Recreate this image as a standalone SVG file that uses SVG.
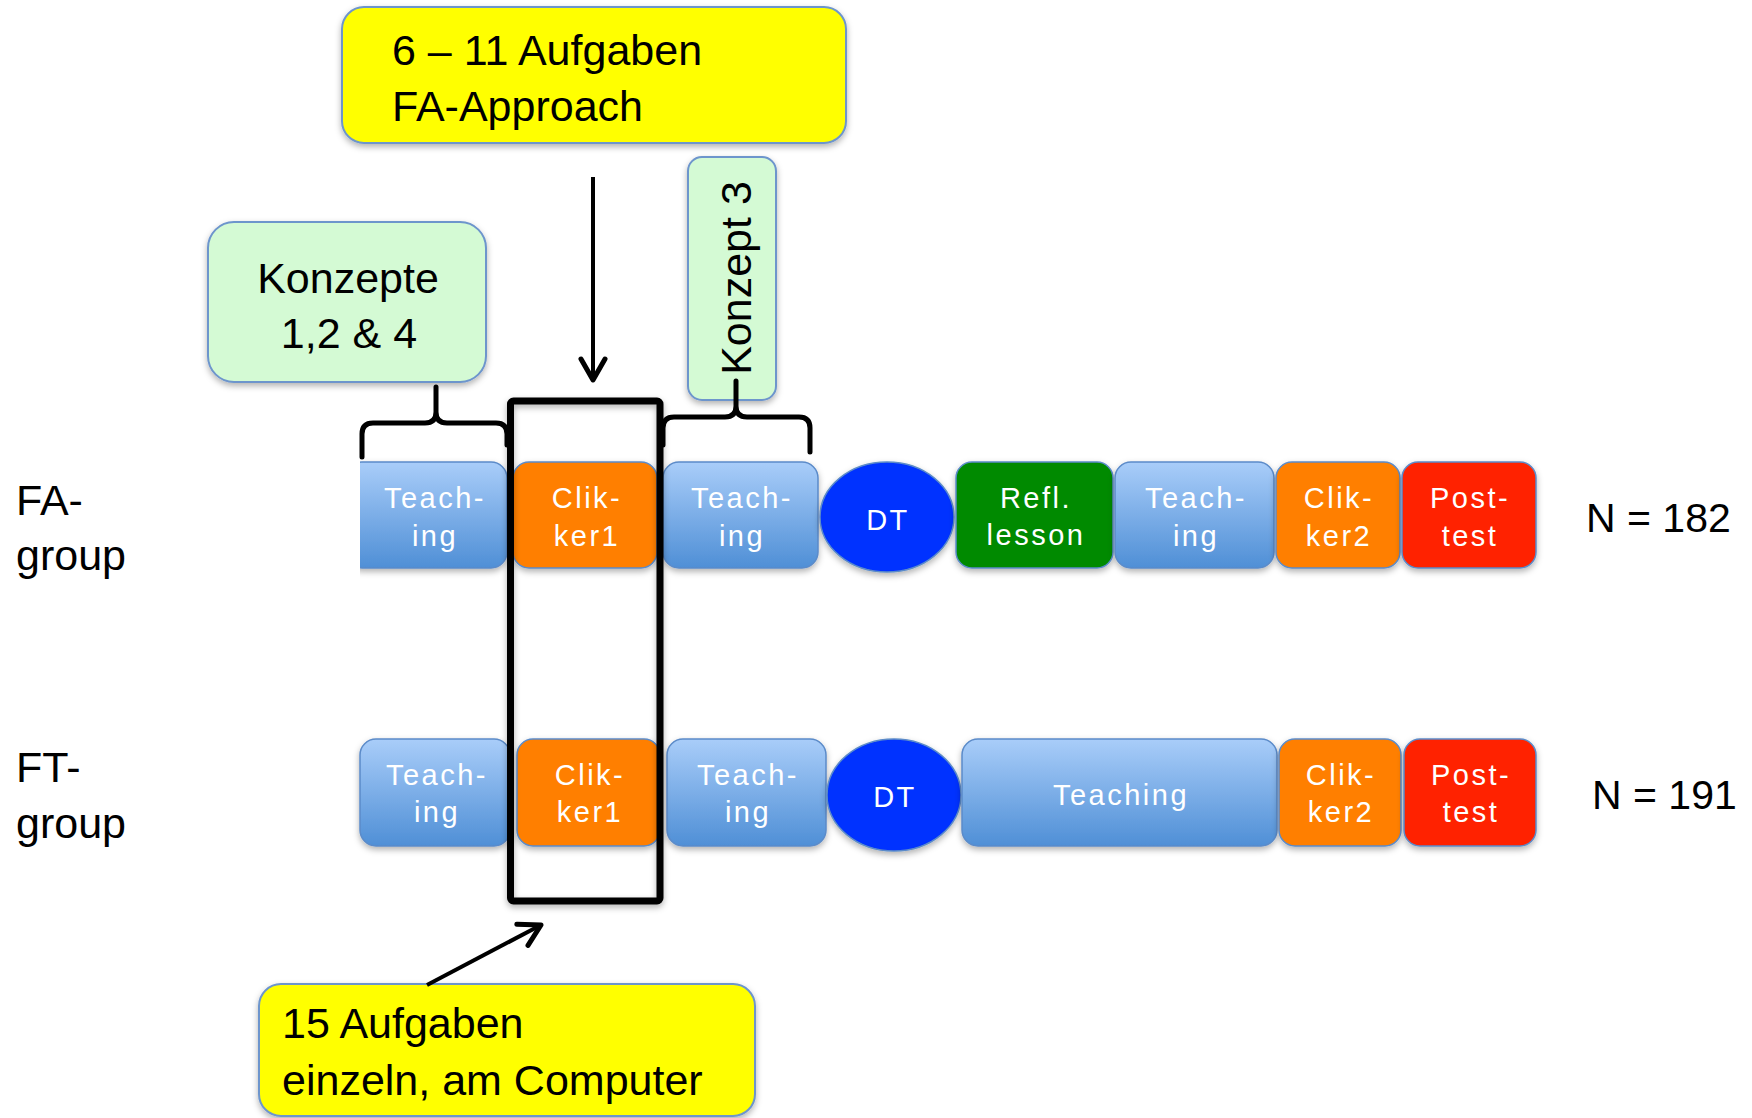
<svg xmlns="http://www.w3.org/2000/svg" width="1752" height="1118" viewBox="0 0 1752 1118">
<style>
.lbl{font-family:"Liberation Sans",Arial,sans-serif;fill:#000}
.big{font-size:43px}
.nt{font-family:"Liberation Sans",Arial,sans-serif;font-size:29px;fill:#fff;text-anchor:middle;letter-spacing:2.5px}
.box{stroke:#5b8bc9;stroke-width:1.5;filter:url(#sh)}
.teach{fill:url(#gTeach)}
.click{fill:#ff7f00}
.post{fill:#ff2200}
.refl{fill:#008a00}
.dt{fill:#0033ff}
.yel{fill:#ffff00;stroke:#6d95cc;stroke-width:2;filter:url(#sh)}
.grn{fill:#d4fad4;stroke:#6d95cc;stroke-width:2;filter:url(#sh)}
.brace{fill:none;stroke:#000;stroke-width:5;stroke-linecap:round;stroke-linejoin:round}
.arr{fill:none;stroke:#000;stroke-width:4;marker-end:url(#ah)}
</style>
<defs>
<linearGradient id="gTeach" x1="0" y1="0" x2="0" y2="1">
<stop offset="0" stop-color="#a9cdf9"/>
<stop offset="1" stop-color="#4f8fd6"/>
</linearGradient>
<filter id="sh" x="-10%" y="-10%" width="120%" height="130%">
<feDropShadow dx="0" dy="3" stdDeviation="3" flood-color="#000" flood-opacity="0.3"/>
</filter>
<clipPath id="clipL"><rect x="360" y="0" width="1400" height="1118"/></clipPath>
<marker id="ah" markerUnits="userSpaceOnUse" markerWidth="40" markerHeight="40" refX="0" refY="0" viewBox="-30 -20 40 40" orient="auto" overflow="visible">
<path d="M-21,-12 L0,0 L-21,12" fill="none" stroke="#000" stroke-width="5" stroke-linecap="round" stroke-linejoin="round"/>
</marker>
</defs>
<rect width="1752" height="1118" fill="#fff"/>

<g id="callout-top">
<rect class="yel" x="342" y="7" width="504" height="136" rx="22"/>
<text class="lbl big" x="392" y="65">6 – 11 Aufgaben</text>
<text class="lbl big" x="392" y="121">FA-Approach</text>
</g>

<g id="callout-konzepte">
<rect class="grn" x="208" y="222" width="278" height="160" rx="26"/>
<text class="lbl big" x="348" y="293" text-anchor="middle">Konzepte</text>
<text class="lbl big" x="349" y="348" text-anchor="middle">1,2 &amp; 4</text>
</g>

<g id="callout-konzept3">
<rect class="grn" x="688" y="157" width="88" height="243" rx="14"/>
<text class="lbl big" transform="translate(751,278) rotate(-90)" text-anchor="middle">Konzept 3</text>
</g>

<g id="callout-bottom">
<rect class="yel" x="259" y="984" width="496" height="132" rx="22"/>
<text class="lbl big" x="282" y="1038">15 Aufgaben</text>
<text class="lbl big" x="282" y="1095">einzeln, am Computer</text>
</g>

<g id="labels">
<text class="lbl big" x="16" y="515">FA-</text>
<text class="lbl big" x="16" y="570">group</text>
<text class="lbl big" x="16" y="782">FT-</text>
<text class="lbl big" x="16" y="838">group</text>
<text class="lbl" font-size="41" x="1586" y="532">N = 182</text>
<text class="lbl" font-size="41" x="1592" y="809">N = 191</text>
</g>

<g id="fa-row">
<g id="fa-teach1" clip-path="url(#clipL)">
<rect class="box teach" x="346" y="462" width="161" height="106" rx="16"/>
<text class="nt" x="435" y="508">Teach-</text><text class="nt" x="435" y="546">ing</text>
</g>
<g id="fa-clik1">
<rect class="box click" x="513" y="462" width="144" height="106" rx="16"/>
<text class="nt" x="587" y="508">Clik-</text><text class="nt" x="587" y="546">ker1</text>
</g>
<g id="fa-teach2">
<rect class="box teach" x="663" y="462" width="155" height="106" rx="16"/>
<text class="nt" x="742" y="508">Teach-</text><text class="nt" x="742" y="546">ing</text>
</g>
<g id="fa-dt">
<ellipse class="box dt" cx="887" cy="517" rx="67" ry="55"/>
<text class="nt" x="888" y="530">DT</text>
</g>
<g id="fa-refl">
<rect class="box refl" x="956" y="462" width="157" height="106" rx="16"/>
<text class="nt" x="1036" y="508">Refl.</text><text class="nt" x="1036" y="545">lesson</text>
</g>
<g id="fa-teach3">
<rect class="box teach" x="1115" y="462" width="159" height="106" rx="16"/>
<text class="nt" x="1196" y="508">Teach-</text><text class="nt" x="1196" y="546">ing</text>
</g>
<g id="fa-clik2">
<rect class="box click" x="1276" y="462" width="124" height="106" rx="16"/>
<text class="nt" x="1339" y="508">Clik-</text><text class="nt" x="1339" y="546">ker2</text>
</g>
<g id="fa-post">
<rect class="box post" x="1402" y="462" width="134" height="106" rx="16"/>
<text class="nt" x="1470" y="508">Post-</text><text class="nt" x="1470" y="546">test</text>
</g>
</g>

<g id="ft-row">
<g id="ft-teach1">
<rect class="box teach" x="360" y="739" width="150" height="107" rx="16"/>
<text class="nt" x="437" y="785">Teach-</text><text class="nt" x="437" y="822">ing</text>
</g>
<g id="ft-clik1">
<rect class="box click" x="517" y="739" width="143" height="107" rx="16"/>
<text class="nt" x="590" y="785">Clik-</text><text class="nt" x="590" y="822">ker1</text>
</g>
<g id="ft-teach2">
<rect class="box teach" x="667" y="739" width="159" height="107" rx="16"/>
<text class="nt" x="748" y="785">Teach-</text><text class="nt" x="748" y="822">ing</text>
</g>
<g id="ft-dt">
<ellipse class="box dt" cx="894" cy="795" rx="67" ry="56"/>
<text class="nt" x="895" y="807">DT</text>
</g>
<g id="ft-teach-wide">
<rect class="box teach" x="962" y="739" width="315" height="107" rx="16"/>
<text class="nt" x="1121" y="805">Teaching</text>
</g>
<g id="ft-clik2">
<rect class="box click" x="1279" y="739" width="122" height="107" rx="16"/>
<text class="nt" x="1341" y="785">Clik-</text><text class="nt" x="1341" y="822">ker2</text>
</g>
<g id="ft-post">
<rect class="box post" x="1404" y="739" width="132" height="107" rx="16"/>
<text class="nt" x="1471" y="785">Post-</text><text class="nt" x="1471" y="822">test</text>
</g>
</g>

<g id="connectors">
<path class="brace" d="M362,457 V434 Q362,423 373,423 H425 Q436,423 436,412 V387 M436,412 Q436,423 447,423 H496 Q507,423 507,434 V445"/>
<path class="brace" d="M663,445 V428 Q663,417 674,417 H725 Q736,417 736,406 V381 M736,406 Q736,417 747,417 H799 Q810,417 810,428 V452"/>
<rect x="510.5" y="401" width="149.5" height="500" rx="3" fill="none" stroke="#000" stroke-width="7" filter="url(#sh)"/>
<line class="arr" x1="593" y1="177" x2="593" y2="380"/>
<line class="arr" x1="427" y1="985" x2="541" y2="925"/>
</g>
</svg>
